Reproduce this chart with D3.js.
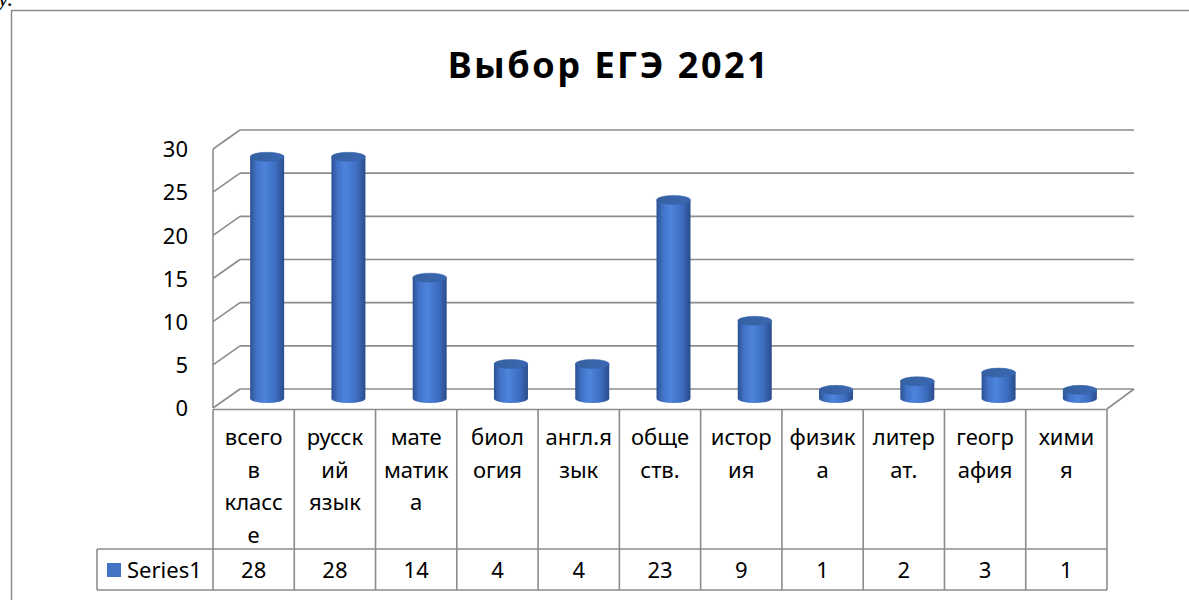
<!DOCTYPE html>
<html><head><meta charset="utf-8">
<script src="https://cdn.jsdelivr.net/npm/d3@7"></script>
<style>body{margin:0;background:#fff;overflow:hidden}svg{display:block}</style>
</head><body>
<script>
const categories = ["всего в классе","русский язык","математика","биология","англ.язык","обществ.","история","физика","литерат.","география","химия"];
const categoryLines = [["всего","в","класс","е"],["русск","ий","язык"],["мате","матик","а"],["биол","огия"],["англ.я","зык"],["обще","ств."],["истор","ия"],["физик","а"],["литер","ат."],["геогр","афия"],["хими","я"]];
const values = [28,28,14,4,4,23,9,1,2,3,1];
const seriesName = "Series1";
const yTicks = [0,5,10,15,20,25,30];
const title = "Выбор ЕГЭ 2021";

const W=1189,H=600;
const font="'Noto Sans', 'Open Sans', sans-serif";
const svg=d3.select("body").append("svg").attr("width",W).attr("height",H);

const defs=svg.append("defs");
const g1=defs.append("linearGradient").attr("id","cyl").attr("x1","0").attr("x2","1").attr("y1","0").attr("y2","0");
[[0,"#2c5192"],[0.18,"#4172c6"],[0.42,"#4d84dc"],[0.75,"#3e6dc0"],[1,"#2a4d8c"]].forEach(s=>g1.append("stop").attr("offset",s[0]).attr("stop-color",s[1]));
const g2=defs.append("linearGradient").attr("id","cyltop").attr("x1","0").attr("x2","1");
[[0,"#35609f"],[1,"#3b68b3"]].forEach(s=>g2.append("stop").attr("offset",s[0]).attr("stop-color",s[1]));

// stray document text (cut off in the reference too)
svg.append("text").attr("x",-2).attr("y",6).attr("font-family","'Liberation Serif', serif").attr("font-style","italic").attr("font-size",24).text("у.");

// chart border
svg.append("rect").attr("x",11.5).attr("y",10.5).attr("width",1300).attr("height",700).attr("fill","none").attr("stroke","#8c8c8c").attr("stroke-width",1.5);

// title
svg.append("text").attr("x",609).attr("y",78).attr("text-anchor","middle").attr("font-family",font).attr("font-weight","bold").attr("font-size",36).attr("letter-spacing",2.5).attr("fill","#000").text(title);

const x=d3.scaleBand().domain(categories).range([213,1107]).padding(0);
const y=d3.scaleLinear().domain([0,30]).range([408,149]);
const DX=27, DY=-19;
const backRight=x.range()[1]+DX;
const grid="#8c8c8c";

yTicks.forEach(t=>{
  const yy=y(t);
  svg.append("line").attr("x1",213+DX).attr("x2",backRight).attr("y1",yy+DY).attr("y2",yy+DY).attr("stroke",grid).attr("stroke-width",1.6);
  svg.append("line").attr("x1",213).attr("x2",213+DX).attr("y1",yy).attr("y2",yy+DY).attr("stroke",grid).attr("stroke-width",1.6);
});
svg.append("line").attr("x1",213).attr("x2",213).attr("y1",y(30)).attr("y2",y(0)).attr("stroke",grid).attr("stroke-width",1.6);
svg.append("line").attr("x1",x.range()[1]).attr("x2",backRight).attr("y1",y(0)+1).attr("y2",y(0)+DY).attr("stroke",grid).attr("stroke-width",1.6);

const yAxis=d3.axisLeft(y).tickValues(yTicks).tickSize(0).tickPadding(0);
const ya=svg.append("g").attr("transform","translate(188,0)").call(yAxis);
ya.select(".domain").remove();
ya.selectAll("text").attr("font-family",font).attr("font-size",22).attr("fill","#000").attr("dy","0.35em");

const bw=34, ry=4.5;
categories.forEach((c,i)=>{
  const cx=x(c)+x.bandwidth()/2+DX/2;
  const y0=y(0)+DY/2, y1=y(values[i])+DY/2;
  const g=svg.append("g");
  g.append("path").attr("d",`M${cx-bw/2},${y1} L${cx-bw/2},${y0} A${bw/2},${ry} 0 0 0 ${cx+bw/2},${y0} L${cx+bw/2},${y1} Z`).attr("fill","url(#cyl)");
  g.append("ellipse").attr("cx",cx).attr("cy",y1).attr("rx",bw/2).attr("ry",ry).attr("fill","url(#cyltop)").attr("stroke","#3461a8").attr("stroke-width",0.5);
});

const tTop=y(0)+1.5, tMid=549, tBot=590, legLeft=97;
const tb=svg.append("g").attr("stroke",grid).attr("stroke-width",1.6);
tb.append("line").attr("x1",213).attr("x2",x.range()[1]).attr("y1",tTop).attr("y2",tTop);
tb.append("line").attr("x1",legLeft).attr("x2",x.range()[1]).attr("y1",tMid).attr("y2",tMid);
tb.append("line").attr("x1",legLeft).attr("x2",x.range()[1]).attr("y1",tBot).attr("y2",tBot);
tb.append("line").attr("x1",legLeft).attr("x2",legLeft).attr("y1",tMid).attr("y2",tBot);
categories.forEach(c=>{
  tb.append("line").attr("x1",x(c)).attr("x2",x(c)).attr("y1",tTop).attr("y2",tBot);
});
tb.append("line").attr("x1",x.range()[1]).attr("x2",x.range()[1]).attr("y1",tTop).attr("y2",tBot);

categories.forEach((c,i)=>{
  const cx=x(c)+x.bandwidth()/2;
  const t=svg.append("text").attr("text-anchor","middle").attr("font-family",font).attr("font-size",22).attr("fill","#000");
  categoryLines[i].forEach((ln,j)=>t.append("tspan").attr("x",cx).attr("y",445+j*32.5).text(ln));
  svg.append("text").attr("x",cx).attr("y",578).attr("text-anchor","middle").attr("font-family",font).attr("font-size",22).attr("fill","#000").text(values[i]);
});
svg.append("rect").attr("x",107).attr("y",563).attr("width",14).attr("height",14).attr("fill","#4472c4");
svg.append("text").attr("x",127).attr("y",578).attr("font-family",font).attr("font-size",22).attr("fill","#000").text(seriesName);
</script>
</body></html>
